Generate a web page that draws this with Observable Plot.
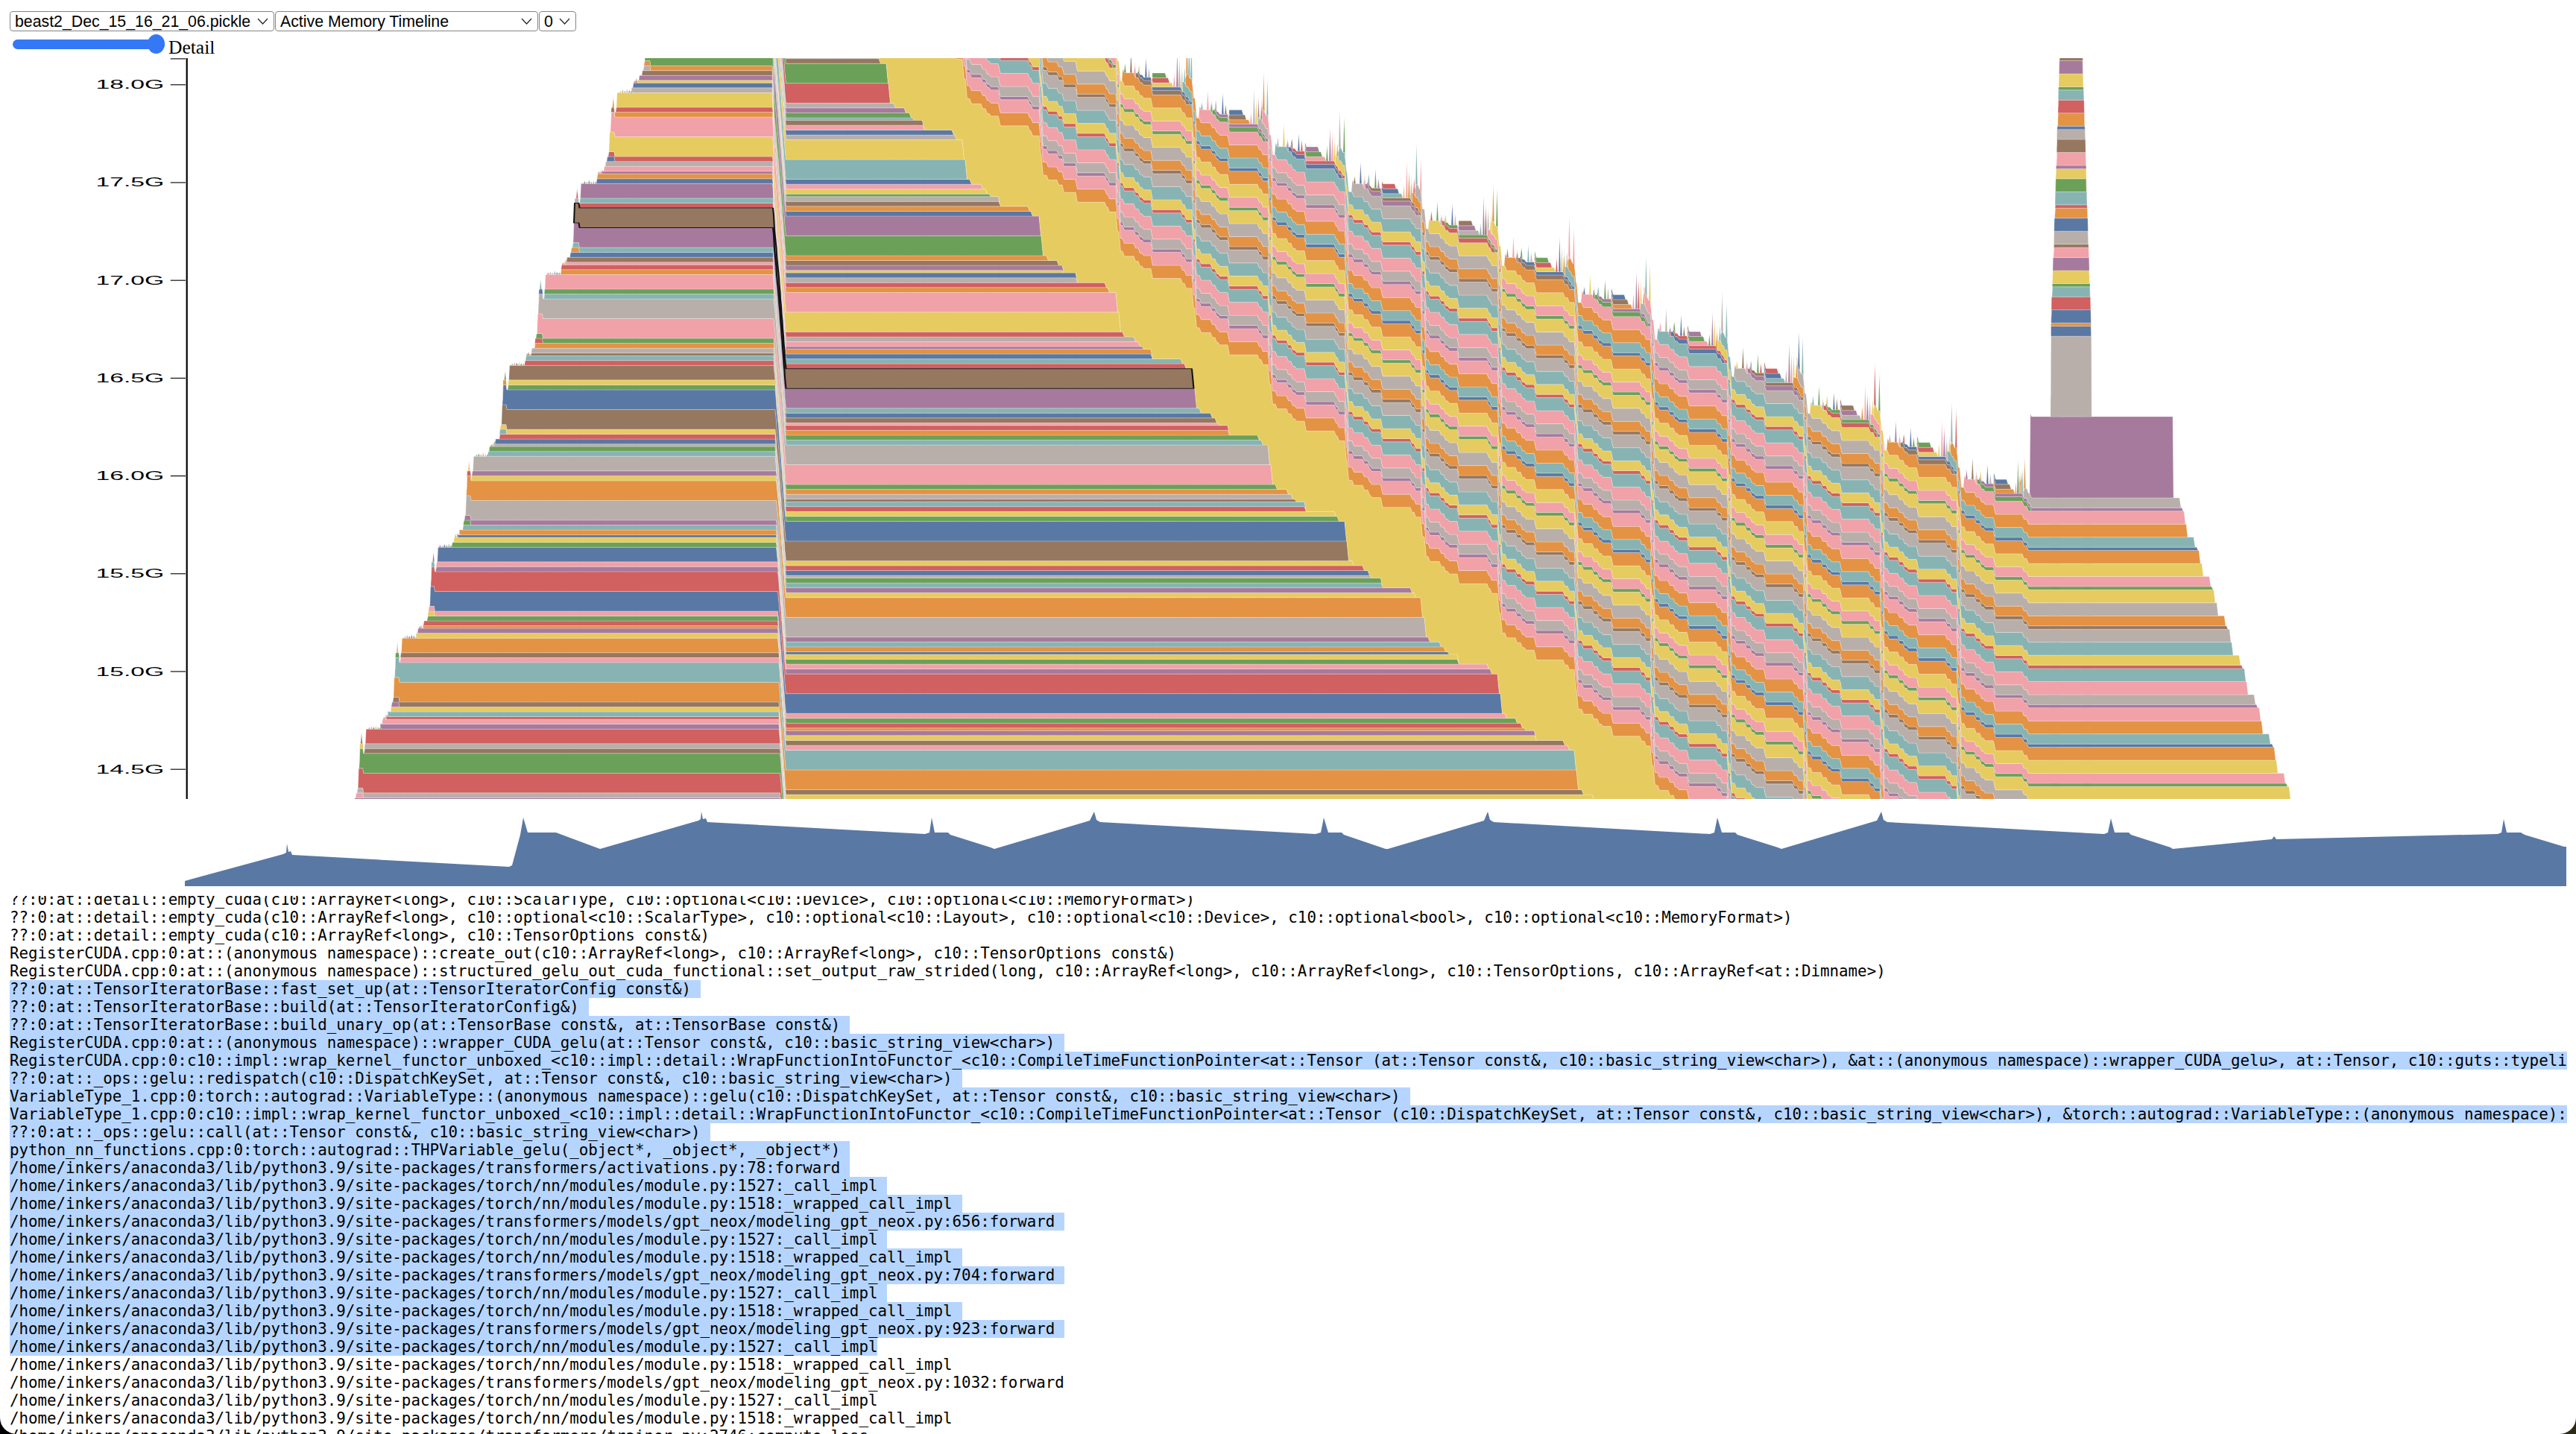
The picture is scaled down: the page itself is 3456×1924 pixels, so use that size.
<!DOCTYPE html>
<html><head><meta charset="utf-8">
<script src="https://cdn.jsdelivr.net/npm/d3@7"></script>
<script src="https://cdn.jsdelivr.net/npm/@observablehq/plot@0.6"></script>
<style>
html,body{margin:0;padding:0;background:linear-gradient(to right,#000 50%,#2c2a10 50%);}
#page{position:relative;width:3456px;height:1924px;background:#fff;overflow:hidden;border-radius:0 0 22px 22px;}
select{position:absolute;top:15px;height:27px;box-sizing:border-box;border:1px solid #858585;border-radius:4px;background:#fff url("data:image/svg+xml,%3Csvg xmlns='http://www.w3.org/2000/svg' width='15' height='9'%3E%3Cpath d='M1 1L7.5 8L14 1' fill='none' stroke='%23222' stroke-width='1.2'/%3E%3C/svg%3E") no-repeat right 7px center;-webkit-appearance:none;appearance:none;font:21.3px "Liberation Sans",Arial,sans-serif;color:#000;padding:0 0 0 6px;margin:0;}
#detail{position:absolute;left:17px;top:46px;width:204px;height:26px;margin:0;-webkit-appearance:none;appearance:none;background:transparent;}
#detail::-webkit-slider-runnable-track{height:13px;border-radius:7px;background:#3478f6;}
#detail::-webkit-slider-thumb{-webkit-appearance:none;width:23px;height:26px;border-radius:50%;background:#3478f6;margin-top:-6.5px;}
#detailLabel{position:absolute;left:226px;top:51px;font:25.5px/26px "Liberation Serif","Times New Roman",serif;color:#000;}
#main{position:absolute;left:0;top:78px;}
#mini{position:absolute;left:0;top:1080px;}
#stack{position:absolute;left:0;top:1202px;width:3444px;height:722px;overflow:hidden;font:20.8px/24px "DejaVu Sans Mono",monospace;color:#000;}
#stack div{white-space:pre;height:24px;margin-left:13px;width:fit-content;}
#stack div.sel{background:#b5d5ff;padding-right:13px;}
#stack div.last{padding-right:0;}
</style></head><body>
<div id="page">
<select style="left:13px;width:355px"><option>beast2_Dec_15_16_21_06.pickle</option></select>
<select style="left:369px;width:353px"><option>Active Memory Timeline</option><option>Allocated Memory (by Category)</option><option>Allocated Memory (by Size)</option></select>
<select style="left:723px;width:50px"><option>0</option></select>
<input id="detail" type="range" min="0" max="100" value="100">
<div id="detailLabel">Detail</div>
<div id="main"></div>
<div id="mini"></div>
<div id="stack"></div>
</div>
<script>
// ---------- palette (one letter per tensor colour)
const colorCodes = ["b","o","r","t","g","y","p","k","n","a"];
const colorHex = ["#5a78a4","#e39343","#d16060","#87b4b2","#6ba058","#e6cb60","#a67a9d","#f1a1a8","#96775f","#b8afab"];

// ---------- y axis, GB
const yDomain = [14.345, 18.133];
const yTicks = [14.5, 15, 15.5, 16, 16.5, 17, 17.5, 18];
const heapFloor = 12.254;

// sizes in GB of the size classes
const sizeClass = {B:0.101, m:0.025, t:0.0131, E:0.0747};

// tensors below the window while the timeline runs (free times only)
const hiddenEnd = [2719,2713,2675,2674,2661,2656,2649,2635,2629,2625,
  2616,2610,2572,2571,2558,2553,2546,2532,2526,2522,
  2513,2507,2469,2468,2455,2450,2443,2429,2423,2419,
  2411,2405,2367,2366,2353,2348,2341,2327,2321,2317,
  2308,2302,2264,2263,2250,2245];
const hiddenSize = "mmmmtmmmBBmmmmtmmmBBmmmmtmmmBBmmmmtmmmBBmmmmtm";
const hiddenTempEnd = [1046.5,1048,1049.5,1051,1052.5];

// main heap, bottom to top
const heapColor = "pargnar"+"pkrtynotkno"+"yporgkbrpkb"+"gybotpaoypa"+"tgabrynbgyn"+"rtnaogkatgk"+"orknbtpnrtp"+"bopkarykory"+"abypnogpbo"+"nagykbtyab"+"kntgpargna";
const heapSize  = "mmBBmmE"+"mmtmmmBBmmE"+"mmtmmmBBmmE"+"mmtmmmBBmmE"+"mmtmmmBBmmE"+"mmtmmmBBmmE"+"mmtmmmBBmmE"+"mmtmmmBBmmE"+"mmtmmmBBmm"+"mmtmmmBBmm"+"mmtmmmBBmm";
const heapStart = [475,479,480.3,481.8,488.3,488.7,490.2,510,512.4,517,520,524,527,528,529.6,536.5,537,538.5,
  558,560,567,568,573,574.8,576.7,577.9,584.4,585,586.7,606,608.5,613,616,620.7,623,624.6,625.7,632,633,634.5,
  654.4,656,662,664,669.7,670.9,672.8,674,681,681.5,682.7,703.6,705,712,712.7,717,719,720.5,722,729.6,729.8,731,
  752,752.7,757.6,760,764.6,768,769,770,777,777.5,778.6,800,801,807,810,812,816,817,819,824,826,827,
  847,849,854.5,857,861,864,865,870,875,880,890,895,900,905,910,915,920,925,930,935,940,945,950,955,960,965,970,975,980,985];
const heapEnd = [2238,2224,2218,2214,2206,2200,1045,2162,2161,2148,2143,2136,2122,2115,2112,2103,2097,1043.5,
  2059,2058,2045,2040,2033,2019,2013,2009,1999,1995,1041.5,1955,1955,1942,1937,1931,1916,1911,1906,1897,1892,1040,
  1853,1852,1838,1835,1828,1814,1807,1804,1794,1790,1038,1750,1750,1737,1732,1726,1711,1705,1701,1692,1687,1037,
  1647,1647,1634,1630,1624,1609,1603,1599,1589,1584,1036.5,1544,1544,1532,1527,1521,1506,1501,1497,1486,1482,1036,
  1443,1443,1425,1425,1418,1404,1397,1394,1383,1379,1340,1339,1327,1322,1316,1301,1295,1291,1281,1277,1238,1237,1224,1220,1213,1199,1192,1189,1179,1175];
const selectedStart = 770;

// short-lived tensors on the ramp
const rampTempStart = [477,482,525,530,573.7,578.2,621.5,626,669.8,674.2,717.2,722.5,766,770.5,814,819.5,863];
const rampTempEnd   = [486.8,487,535,535.5,582.5,583,631,631.5,679,679,727.5,727.8,776.5,776,824,824,872];
const rampTempColor = "kypgytgrtorboabna";

// thin spikes on the ramp
const rampBitT = [483.7,531.8,580.3,628,676.5,724,773,821.5,
  494,497,500,503,506,509,514,516,519,542,545,548,551,554,557,562,564,566,
  589,592,595,598,601,604,610,612,615,638,641,644,647,650,653,658,660,662,
  686,689,692,695,698,701,706,708,710,734,737,740,743,746,749,754,756,758,
  783,786,789,792,795,798,802,804,806,831,834,837,840,843,846,850,852,853];
const rampBitH = [.055,.055,.05,.055,.045,.05,.05,.05,
  .012,.016,.012,.02,.012,.014,.012,.02,.015,.012,.018,.012,.02,.014,.012,.014,.02,.012,
  .014,.012,.018,.012,.02,.012,.02,.014,.012,.012,.016,.012,.022,.014,.012,.012,.02,.014,
  .012,.018,.014,.02,.012,.012,.014,.02,.012,.012,.016,.012,.02,.014,.012,.012,.02,.014,
  .014,.012,.02,.012,.016,.012,.012,.02,.014,.012,.018,.012,.02,.014,.012,.012,.02,.014];
const rampBitC = "nkpygtro"+"akbytgnkp"+"ktbrganky"+"pkbgtrayk"+"tgakybrap"+"akbyrtgnk"+"paktbgrya"+"bkgtaprkn"+"yatkgbprn";

// the large tensors
const bigStart = [990, 1000, 2723];
const bigEnd = [3440, 3440, 2915];
const bigSize = [0.4116, 0.0667, 0.415];
const bigColor = "yop";

// periodic columns in the backward pass: start step of each layer
const colStart = [1086,1189,1291,1394,1496,1599,1701,1804,1907,2009,2112,2214,2317,2419,2522,2625,2728];
const colA  = "ktayoktayoktayok";
const colB2 = "gbprngbprngbprng";
const colB  = "prngbprngbprngbp";
const colC  = "ayoktayoktayokta";
const colT1 = "oktayoktayoktayo";
const colT2 = "ngbprngbprngbprn";
const colT3 = "bprngbprngbprngb";
const colSize = {a:0.0667, b2:0.0236, b:0.0167, t1:0.0217, t2:0.025, c:0.0511};
// free times of the layer tensors still in the window at the right
const colEnd = {8:[3071,3067,3064,3054],9:[3051,3048,3044,3034],10:[3031,3027,3024,3014],11:[3011,3007,3004,2994],
  12:[2991,2987,2984,2974],13:[2970,2967,2964,2954],14:[2950,2947,2943,2933],15:[2930,2927,2924]};

// the tower
const towerColor = "abobrtgyp" + "knabortg" + "ypknabo" + "rtgypn";
const towerSize = [.4116,.0511,.0167,.0667,.0667,.0511,.0167,.0667,.0667,.0511,.0167,.0667,.0667,.0511,.0167,.0667,.0667,.0511,.0167,.0667,.0667,.0511,.0167,.0667,.0667,.0511,.0167,.0667,.0667,.05];
const towerStart = [2751,2751.1,2751.3,2751.8,2752,2753,2753.2,2753.6,2754,2755,2755.2,2755.4,2755.8,2756.7,2756.9,2757,2757.6,2758,2758.2,2759,2759.2,2759.4,2759.8,2760.7,2761,2761.2,2761.6,2762,2762.5,2763];
const towerEnd = [2805.8,2805.4,2805.4,2805,2804.5,2804,2804,2803,2802.7,2802.2,2801.8,2801.3,2801,2800.4,2800,2799.6,2799,2799,2798.7,2798.2,2797.8,2797.3,2796.9,2796.4,2796,2795.5,2795,2794.6,2794.2,2794.2];

// spikes at the top of the backward pass
const spikeT = [
1508,1516,1521,1527,1536,1540,1574,1578,1581,1584,1588,1591,1594,
1611,1619,1624,1630,1639,1643,1677,1681,1684,1687,1691,1694,1597,
1713,1721,1726,1732,1741,1745,1779,1783,1786,1789,1793,1796,1699,
1816,1824,1829,1835,1844,1848,1882,1886,1889,1892,1896,1899,1802,
1919,1927,1932,1938,1947,1951,1985,1989,1992,1995,1999,2002,1905,
2021,2029,2034,2040,2049,2053,2087,2091,2094,2097,2101,2104,2007,
2124,2132,2137,2143,2152,2156,2190,2194,2197,2200,2204,2207,2110,
2226,2234,2239,2245,2254,2258,2292,2296,2299,2302,2306,2309,2212,
2329,2337,2342,2348,2357,2361,2395,2399,2402,2405,2409,2412,2315,
2431,2439,2444,2450,2459,2463,2497,2501,2504,2507,2511,2514,2417,
2534,2542,2547,2553,2562,2566,2600,2604,2607,2610,2614,2617,2520,
2637,2645,2650,2656,2665,2669,2703,2706,2708,2710,2712,2715,2623];
const spikeH = [
.05,.11,.06,.04,.10,.05,.07,.19,.15,.11,.08,.21,.19,
.04,.10,.06,.05,.11,.05,.06,.18,.13,.10,.09,.20,.17,
.05,.12,.05,.04,.09,.06,.08,.17,.15,.12,.07,.19,.19,
.04,.11,.06,.05,.10,.05,.07,.19,.14,.11,.08,.21,.18,
.05,.10,.05,.04,.11,.06,.06,.20,.15,.10,.09,.19,.17,
.05,.11,.06,.05,.09,.05,.07,.18,.13,.12,.08,.22,.19,
.04,.10,.06,.04,.10,.06,.08,.19,.15,.11,.07,.20,.18,
.05,.12,.05,.05,.11,.05,.06,.17,.14,.10,.08,.21,.19,
.04,.11,.06,.04,.10,.05,.07,.20,.15,.11,.09,.19,.17,
.05,.10,.05,.05,.09,.06,.07,.18,.13,.12,.08,.22,.19,
.04,.11,.06,.04,.10,.05,.07,.19,.15,.11,.08,.21,.19,
.05,.11,.06,.04,.10,.05,.06,.17,.10,.12,.13,.16,.20];
const spikeC =
"gnkybakpaytot"+"tkgabnkaypgot"+"aypnbrgpkyoat"+"nbktgpykoartg"+"rgaybktpnayok"+"pkngtarbyoakg"+
"byntgakpryotk"+"kargbngpyotay"+"ynktgrapkyobt"+"tgaybnokpayrt"+"apkrbgykpaytg"+"pnkybakgaotor";

// memory over the whole trace
const miniStep = [248,380,384,385,387,390,392,683,687,698,702,708,746,805,937,940,941,943,947,949,
  1241,1247,1250,1254,1272,1275,1329,1334,1462,1468,1471,1476,1765,1772,1776,1782,1800,1803,1859,1862,
  1991,1996,1999,2004,2294,2300,2304,2310,2328,2331,2385,2390,2518,2524,2527,2532,
  2823,2828,2832,2837,2856,2859,2912,2915,3048,3051,3054,3351,3356,3359,3363,3382,3387,3440,3443];
const miniMem = [1.4,8.6,9,11.4,9.2,9.4,8.4,5.2,5.6,13.8,18.4,14.4,14.4,10,17.6,18,20,18,18.2,17.2,
  14,14.4,18.4,14.4,14.4,13.8,10.4,10,17.6,20,17.8,17.2,14,14.4,18.4,14.4,14.4,13.8,10,10,
  17.6,20,17.8,17.2,14,14.4,18.4,14.4,14.4,13.8,10.4,10,17.6,20,17.8,17.2,
  14,14.4,18.2,14.4,14.4,13.8,10.4,10,12.6,13.4,12.6,14,14.4,18,14.4,14.4,13.8,10.6,10.6];

// stack trace text
const mod = "/home/inkers/anaconda3/lib/python3.9/site-packages/";
const stackLines = [
"??:0:at::detail::empty_cuda(c10::ArrayRef<long>, c10::ScalarType, c10::optional<c10::Device>, c10::optional<c10::MemoryFormat>)",
"??:0:at::detail::empty_cuda(c10::ArrayRef<long>, c10::optional<c10::ScalarType>, c10::optional<c10::Layout>, c10::optional<c10::Device>, c10::optional<bool>, c10::optional<c10::MemoryFormat>)",
"??:0:at::detail::empty_cuda(c10::ArrayRef<long>, c10::TensorOptions const&)",
"RegisterCUDA.cpp:0:at::(anonymous namespace)::create_out(c10::ArrayRef<long>, c10::ArrayRef<long>, c10::TensorOptions const&)",
"RegisterCUDA.cpp:0:at::(anonymous namespace)::structured_gelu_out_cuda_functional::set_output_raw_strided(long, c10::ArrayRef<long>, c10::ArrayRef<long>, c10::TensorOptions, c10::ArrayRef<at::Dimname>)",
"??:0:at::TensorIteratorBase::fast_set_up(at::TensorIteratorConfig const&)",
"??:0:at::TensorIteratorBase::build(at::TensorIteratorConfig&)",
"??:0:at::TensorIteratorBase::build_unary_op(at::TensorBase const&, at::TensorBase const&)",
"RegisterCUDA.cpp:0:at::(anonymous namespace)::wrapper_CUDA_gelu(at::Tensor const&, c10::basic_string_view<char>)",
"RegisterCUDA.cpp:0:c10::impl::wrap_kernel_functor_unboxed_<c10::impl::detail::WrapFunctionIntoFunctor_<c10::CompileTimeFunctionPointer<at::Tensor (at::Tensor const&, c10::basic_string_view<char>), &at::(anonymous namespace)::wrapper_CUDA_gelu>, at::Tensor, c10::guts::typelist::typelist<at::Tensor const&, c10::basic_string_view<char>>>",
"??:0:at::_ops::gelu::redispatch(c10::DispatchKeySet, at::Tensor const&, c10::basic_string_view<char>)",
"VariableType_1.cpp:0:torch::autograd::VariableType::(anonymous namespace)::gelu(c10::DispatchKeySet, at::Tensor const&, c10::basic_string_view<char>)",
"VariableType_1.cpp:0:c10::impl::wrap_kernel_functor_unboxed_<c10::impl::detail::WrapFunctionIntoFunctor_<c10::CompileTimeFunctionPointer<at::Tensor (c10::DispatchKeySet, at::Tensor const&, c10::basic_string_view<char>), &torch::autograd::VariableType::(anonymous namespace)::gelu>, at::Tensor, c10::guts::typelist::typelist>",
"??:0:at::_ops::gelu::call(at::Tensor const&, c10::basic_string_view<char>)",
"python_nn_functions.cpp:0:torch::autograd::THPVariable_gelu(_object*, _object*, _object*)",
mod+"transformers/activations.py:78:forward",
mod+"torch/nn/modules/module.py:1527:_call_impl",
mod+"torch/nn/modules/module.py:1518:_wrapped_call_impl",
mod+"transformers/models/gpt_neox/modeling_gpt_neox.py:656:forward",
mod+"torch/nn/modules/module.py:1527:_call_impl",
mod+"torch/nn/modules/module.py:1518:_wrapped_call_impl",
mod+"transformers/models/gpt_neox/modeling_gpt_neox.py:704:forward",
mod+"torch/nn/modules/module.py:1527:_call_impl",
mod+"torch/nn/modules/module.py:1518:_wrapped_call_impl",
mod+"transformers/models/gpt_neox/modeling_gpt_neox.py:923:forward",
mod+"torch/nn/modules/module.py:1527:_call_impl",
mod+"torch/nn/modules/module.py:1518:_wrapped_call_impl",
mod+"transformers/models/gpt_neox/modeling_gpt_neox.py:1032:forward",
mod+"torch/nn/modules/module.py:1527:_call_impl",
mod+"torch/nn/modules/module.py:1518:_wrapped_call_impl",
mod+"transformers/trainer.py:2746:compute_loss"];
const selFirst = 5, selLast = 25;

// ---------- build the tensors
const tensors = [];
function add(c, size, start, end, rise, fall){ tensors.push({c, size, start, end, rise, fall}); }
hiddenEnd.forEach((e,i)=>add(null, sizeClass[hiddenSize[i]], 249, e, 0, 2.5));
hiddenTempEnd.forEach(e=>add(null, sizeClass.E, 249, e, 0, 2));
heapStart.forEach((s,i)=>add(heapColor[i], sizeClass[heapSize[i]], s, heapEnd[i], 1, heapSize[i]==="E"?2:2.5));
rampTempStart.forEach((s,i)=>add(rampTempColor[i], sizeClass.m, s, rampTempEnd[i], 1, 1));
rampBitT.forEach((s,i)=>add(rampBitC[i]||"k", rampBitH[i], s, s+1.3, 1.3, 1.3));
bigStart.forEach((s,i)=>add(bigColor[i], bigSize[i], s, bigEnd[i], 1, 1));
colStart.slice(0,16).forEach((s,j)=>{
  const n = colStart[j+1], e = colEnd[j] || [3440,3440,3440,3440];
  add(colA[j], colSize.a, s+9, e[0], 1.5, 2);
  add(colB2[j], colSize.b2, s+26, n-5, 1.5, 2.5);
  add(colB[j], colSize.b, s+30, e[1], 1.5, 2);
  add(colT1[j], colSize.t1, s+49, s+76, 1, 2);
  add(colT2[j], colSize.t2, s+49.2, s+71, 1, 2);
  add(colT3[j], colSize.t2, s+49.4, s+67, 1, 2);
  add(colC[j], colSize.c, n-14, e[2], 1.5, 2);
  if (j<15) add(colA[j], colSize.a, n-9, e[3], 1.5, 2);
});
towerStart.forEach((s,i)=>add(towerColor[i], towerSize[i], s, towerEnd[i], .4, .4));
spikeT.forEach((s,i)=>add(spikeC[i]||"k", spikeH[i], s, s+1.4, 1.4, 1.4));
tensors.forEach((d,i)=>d.id=i);
tensors.sort((a,b)=>a.start-b.start);
const selectedId = tensors.find(d=>d.start===selectedStart && d.size===sizeClass.B).id;

// ---------- event times and stacked rows
const times = new Set();
for (const d of tensors){ times.add(d.start); times.add(d.start+d.rise); times.add(d.end); times.add(d.end+d.fall); }
const steps = Array.from(times).sort((a,b)=>a-b);
const rows = [];
for (const t of steps){
  let cum = heapFloor;
  for (const d of tensors){
    if (t < d.start || t > d.end+d.fall) continue;
    let f = 1;
    if (d.rise>0 && t < d.start+d.rise) f = (t-d.start)/d.rise;
    if (t > d.end) f = 1-(t-d.end)/d.fall;
    const v = d.size*f;
    if (d.c) rows.push({t, z:d.id, c:d.c, y1:cum, y2:cum+v});
    cum += v;
  }
}

// ---------- main chart
const main = Plot.plot({
  width:1024, height:576, marginLeft:73.78, marginRight:0, marginTop:0, marginBottom:0,
  x:{domain:[249,3456], axis:null},
  y:{domain:yDomain, axis:null},
  color:{type:"ordinal", domain:colorCodes, range:colorHex},
  style:{fontFamily:'"Liberation Sans",Arial,sans-serif', background:"transparent"},
  marks:[
    Plot.areaY(rows,{x:"t",y1:"y1",y2:"y2",z:"z",fill:"c",stroke:"#fff",strokeOpacity:.45,strokeWidth:.22,clip:true}),
    Plot.areaY(rows.filter(d=>d.z===selectedId),{x:"t",y1:"y1",y2:"y2",z:"z",fill:"none",stroke:"#111",strokeWidth:.6,clip:true}),
    Plot.ruleX([249],{stroke:"#000",strokeWidth:.65}),
    Plot.axisY(yDomain,{anchor:"left",tickSize:6,tickFormat:()=>"",label:null,stroke:"#000",strokeWidth:.65}),
    Plot.axisY(yTicks,{anchor:"left",tickSize:6,tickPadding:3,fontSize:10,label:null,stroke:"#000",color:"#000",strokeWidth:.65,tickFormat:d=>d.toFixed(1)+"G"})
  ]
});
main.setAttribute("preserveAspectRatio","none");
Object.assign(main.style,{width:"3456px",height:"994px",maxWidth:"none",display:"block"});
document.getElementById("main").append(main);

// ---------- overview
const mini = Plot.plot({
  width:3456, height:110, marginLeft:0, marginRight:0, marginTop:0, marginBottom:1,
  x:{domain:[0,3456], axis:null}, y:{domain:[0,21.8], axis:null},
  style:{background:"transparent"},
  marks:[Plot.areaY(miniStep.map((t,i)=>({t,m:miniMem[i]})),{x:"t",y:"m",fill:"#5a78a4"})]
});
Object.assign(mini.style,{maxWidth:"none",display:"block"});
document.getElementById("mini").append(mini);

// ---------- stack trace
const box = document.getElementById("stack");
stackLines.forEach((l,i)=>{
  const d = document.createElement("div");
  d.textContent = l;
  if (i>=selFirst && i<=selLast){ d.className = "sel"+(i===selLast?" last":""); }
  if (i===0) d.style.marginTop="-7px";
  box.append(d);
});
</script>
</body></html>
